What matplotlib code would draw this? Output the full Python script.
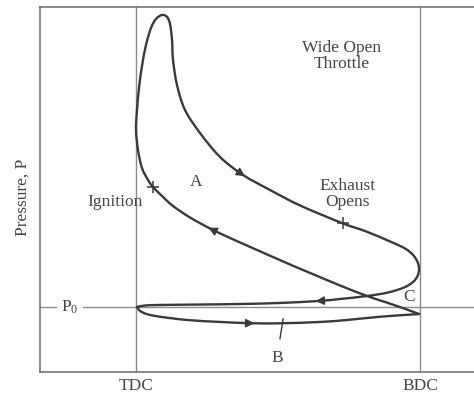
import matplotlib
matplotlib.use("Agg")
import matplotlib.pyplot as plt
from matplotlib.path import Path
from matplotlib.patches import PathPatch

# Four-stroke indicator diagram: volume as % of stroke (TDC = 0, BDC = 100),
# pressure in units of the inlet pressure P0.
power_v = [5.99, 4.23, 2.11, 0.70, 0.00, 0.35, 1.06, 2.11, 3.52, 5.28, 7.04, 9.15, 10.92,
           11.97, 12.68, 13.03, 14.44, 17.25, 22.54, 29.58, 37.68, 47.18, 57.75, 72.89]
power_p = [2.846, 2.954, 3.138, 3.415, 3.723, 4.031, 4.369, 4.708, 5.031, 5.292, 5.431,
           5.492, 5.462, 5.354, 5.108, 4.800, 4.415, 4.031, 3.677, 3.308, 3.031, 2.800,
           2.562, 2.285]

exhaust_v = [72.89, 80.63, 89.44, 94.72, 97.54, 99.12, 99.65, 99.12, 97.54, 94.37, 88.73,
             81.34, 71.83, 64.08, 50.70, 36.62, 22.54, 8.45, 3.17, 0.35]
exhaust_p = [2.285, 2.169, 2.008, 1.900, 1.800, 1.692, 1.585, 1.477, 1.385, 1.300, 1.223,
             1.169, 1.123, 1.092, 1.062, 1.046, 1.038, 1.031, 1.023, 1.000]

intake_v = [0.35, 1.4, 3.9, 8.5, 18.0, 29.6, 40.8, 51.4, 64.8, 74.3, 85.9, 99.65]
intake_p = [1.00, 0.94, 0.89, 0.85, 0.80, 0.77, 0.75, 0.75, 0.77, 0.80, 0.85, 0.892]

compression_v = [99.65, 94.37, 87.68, 81.34, 71.83, 63.03, 54.23, 42.61, 33.10, 26.06,
                 19.01, 13.03, 9.15, 5.99]
compression_p = [0.892, 0.977, 1.077, 1.169, 1.331, 1.492, 1.654, 1.877, 2.062, 2.208,
                 2.377, 2.554, 2.708, 2.846]

tdc, bdc, p0 = 0.0, 100.0, 1.0
x_ticks = [tdc, bdc]
x_tick_labels = ["TDC", "BDC"]

CURVE = "#3a3a3a"
FRAME = "#6a6a6a"
GUIDE = "#8c8c8c"
TEXT = "#454545"
SERIF = ["Liberation Serif", "DejaVu Serif"]

plt.rcParams["font.family"] = SERIF
plt.rcParams["mathtext.fontset"] = "custom"
plt.rcParams["mathtext.rm"] = "Liberation Serif"

fig = plt.figure(figsize=(4.74, 3.94), dpi=100)
ax = fig.add_axes([40 / 474, 22 / 394, 434 / 474, 365 / 394])
ax.set_xlim(-33.8, 119.0)
ax.set_ylim(0, 5.615)

for side in ("left", "top", "bottom"):
    ax.spines[side].set_color(FRAME)
    ax.spines[side].set_linewidth(1.1)
ax.spines["right"].set_visible(False)
ax.set_yticks([])
ax.set_xticks(x_ticks)
ax.set_xticklabels(x_tick_labels, fontsize=12.5, color=TEXT)
ax.tick_params(axis="x", length=0, pad=4)

# reference lines
ax.axvline(tdc, color=GUIDE, lw=1.0, zorder=1)
ax.axvline(bdc, color=GUIDE, lw=1.0, zorder=1)
ax.axhline(p0, color=GUIDE, lw=1.0, zorder=1)


def smooth_path(v, p):
    """Cubic Bezier path passing through every (v, p) point (Catmull-Rom tangents)."""
    pts = list(zip(v, p))
    n = len(pts)
    verts = [pts[0]]
    codes = [Path.MOVETO]
    for i in range(n - 1):
        a = pts[max(i - 1, 0)]
        b = pts[i]
        c = pts[i + 1]
        d = pts[min(i + 2, n - 1)]
        c1 = (b[0] + (c[0] - a[0]) / 6, b[1] + (c[1] - a[1]) / 6)
        c2 = (c[0] - (d[0] - b[0]) / 6, c[1] - (d[1] - b[1]) / 6)
        verts += [c1, c2, c]
        codes += [Path.CURVE4] * 3
    return Path(verts, codes)


# compression, combustion/expansion and exhaust form one smooth stroke;
# the intake stroke joins it at sharp corners at TDC and BDC
main_v = compression_v + power_v[1:] + exhaust_v[1:]
main_p = compression_p + power_p[1:] + exhaust_p[1:]
for v, p in ((main_v, main_p), (intake_v, intake_p)):
    ax.add_patch(PathPatch(smooth_path(v, p), fc="none", ec=CURVE, lw=1.7,
                           capstyle="round", joinstyle="round", zorder=3))


# direction arrows along the strokes
def arrow(v, p, i):
    dv = v[i + 1] - v[i - 1]
    dp = p[i + 1] - p[i - 1]
    ax.annotate("", xy=(v[i] + 0.04 * dv, p[i] + 0.04 * dp),
                xytext=(v[i] - 0.04 * dv, p[i] - 0.04 * dp),
                arrowprops=dict(arrowstyle="-|>", color=CURVE, lw=1.0,
                                mutation_scale=13, shrinkA=0, shrinkB=0),
                zorder=4)


arrow(power_v, power_p, 20)
arrow(compression_v, compression_p, 9)
arrow(exhaust_v, exhaust_p, 13)
arrow(intake_v, intake_p, 6)

# ignition and exhaust-valve-opening marks
ax.plot([power_v[0], power_v[-1]], [power_p[0], power_p[-1]], ls="none",
        marker="+", ms=9, mew=1.1, color=CURVE, zorder=5)

fs = 12.5
ax.text(72.5, 4.86, "Wide Open\nThrottle", ha="center", va="center",
        fontsize=fs, color=TEXT, linespacing=1.0)
ax.text(74.6, 2.74, "Exhaust\nOpens", ha="center", va="center",
        fontsize=fs, color=TEXT, linespacing=1.0)
ax.text(-7.4, 2.62, "Ignition", ha="center", va="center", fontsize=fs, color=TEXT)
ax.text(21.1, 2.92, "A", ha="center", va="center", fontsize=fs, color=TEXT)
ax.text(96.1, 1.15, "C", ha="center", va="center", fontsize=fs, color=TEXT)
ax.annotate("B", xy=(intake_v[7] + 0.4, intake_p[7] + 0.07), xytext=(49.6, 0.215),
            ha="center", va="center", fontsize=fs, color=TEXT,
            arrowprops=dict(arrowstyle="-", color=CURVE, lw=1.0,
                            shrinkA=6, shrinkB=0))
ax.text(-23.2, p0, r"$\mathregular{P_0}$", ha="center", va="center",
        fontsize=fs, color=TEXT,
        bbox=dict(boxstyle="square,pad=0.25", fc="white", ec="none"), zorder=2)
ax.text(-0.041, 0.479, "Pressure, P", rotation=90, ha="center", va="center",
        transform=ax.transAxes, fontsize=fs, color=TEXT)

fig.savefig("out.png", dpi=100)
